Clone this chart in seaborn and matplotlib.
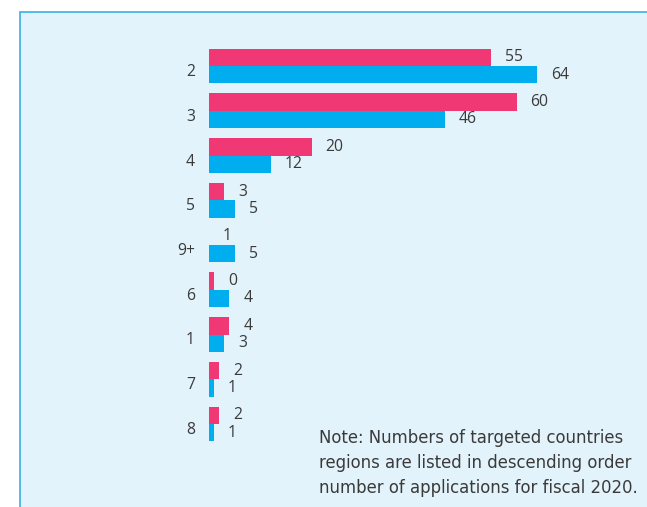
import matplotlib
matplotlib.use("Agg")
import matplotlib.pyplot as plt
import matplotlib.transforms as mtransforms
from matplotlib.patches import Rectangle
import seaborn as sns
import pandas as pd

categories = ["2", "3", "4", "5", "9+", "6", "1", "7", "8"]
series_names = ["Fiscal 2020", "Fiscal 2019"]
pink_values = [55, 60, 20, 3, 0, 1, 4, 2, 2]
blue_values = [64, 46, 12, 5, 5, 4, 3, 1, 1]
pink_labels = ["55", "60", "20", "3", "1", "0", "4", "2", "2"]
blue_labels = ["64", "46", "12", "5", "5", "4", "3", "1", "1"]
note_lines = [
    "Note: Numbers of targeted countries",
    "regions are listed in descending order",
    "number of applications for fiscal 2020.",
]

PINK = "#ef3874"
BLUE = "#00adee"
TEXT = "#3a3a3a"

df = pd.DataFrame({
    "category": categories * 2,
    "value": pink_values + blue_values,
    "series": [series_names[0]] * len(categories) + [series_names[1]] * len(categories),
})

sns.set_theme(style="white")
plt.rcParams["font.family"] = ["Open Sans", "DejaVu Sans"]

W, H = 647, 507
fig = plt.figure(figsize=(W / 100, H / 100), dpi=100)
fig.patch.set_facecolor("white")

# panel background
panel = Rectangle((20 / W, -0.1), 1.2, 1.1 - 12 / H, transform=fig.transFigure,
                  facecolor="#e3f3fb", edgecolor="#35b1e4", linewidth=1.2,
                  zorder=-10)
fig.patches.append(panel)

ax_left, ax_top, ax_bottom = 209, 40, 450
ax = fig.add_axes([ax_left / W, 1 - ax_bottom / H, (W - ax_left) / W,
                   (ax_bottom - ax_top) / H])
ax.patch.set_alpha(0)
ax.set_zorder(1)

sns.barplot(data=df, y="category", x="value", hue="series", orient="h",
            palette=[PINK, BLUE], width=0.78, saturation=1, ax=ax,
            legend=False, order=categories, linewidth=0)

px_per_unit = 5.125
ax.set_xlim(0, (W - ax_left) / px_per_unit)
row_h = 44.75
ax.set_ylim((ax_bottom - 66) / row_h, (ax_top - 66) / row_h)

ax.bar_label(ax.containers[0], labels=pink_labels, padding=10,
             fontsize=11.3, color=TEXT)
ax.bar_label(ax.containers[1], labels=blue_labels, padding=10,
             fontsize=11.3, color=TEXT)

for s in ax.spines.values():
    s.set_visible(False)
ax.set_xticks([])
ax.set_xlabel("")
ax.set_ylabel("")
ax.tick_params(axis="y", length=0, pad=10, labelsize=11.3, labelcolor=TEXT)
offset = mtransforms.ScaledTranslation(0, -0.04, fig.dpi_scale_trans)
for lbl in ax.get_yticklabels():
    lbl.set_transform(lbl.get_transform() + offset)

for i, line in enumerate(note_lines):
    fig.text(319 / W, 1 - (438 + 25 * i) / H, line, fontsize=11.9,
             color=TEXT, ha="left", va="center", family=["DejaVu Sans"])

fig.savefig("out.png", dpi=100, facecolor="white")
